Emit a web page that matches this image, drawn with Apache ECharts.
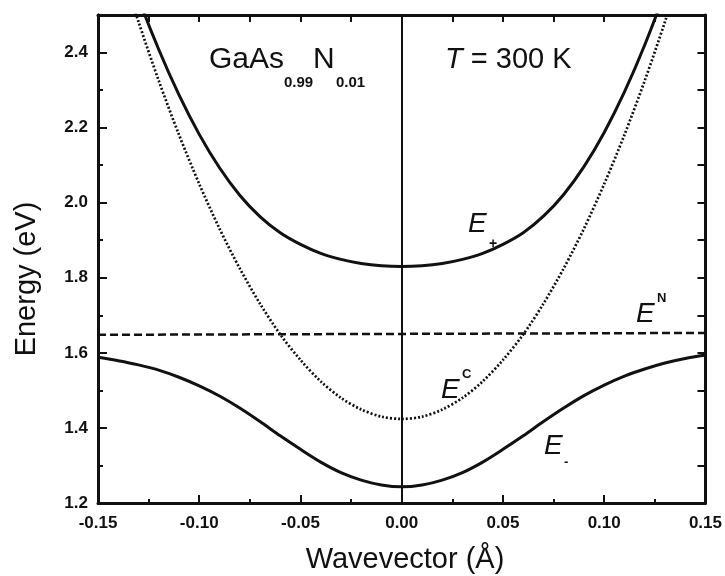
<!DOCTYPE html>
<html>
<head>
<meta charset="utf-8">
<script src="https://cdn.jsdelivr.net/npm/echarts@6/dist/echarts.min.js"></script>
<style>
  html, body { margin: 0; padding: 0; background: #fff; }
  #chart { width: 725px; height: 576px; }
</style>
</head>
<body>
<div id="chart"></div>
<script>
// Wavevector samples (1/Å)
const wavevector = [-0.15, -0.14, -0.13, -0.12, -0.11, -0.10, -0.09, -0.08, -0.07, -0.06, -0.05, -0.04, -0.03, -0.02, -0.01,
  0.00, 0.01, 0.02, 0.03, 0.04, 0.05, 0.06, 0.07, 0.08, 0.09, 0.10, 0.11, 0.12, 0.13, 0.14, 0.15];

// Unperturbed conduction band E^C (eV)
const energyC = [2.833, 2.651, 2.482, 2.325, 2.181, 2.050, 1.931, 1.825, 1.731, 1.649, 1.581, 1.524, 1.480, 1.449, 1.430,
  1.424, 1.430, 1.449, 1.480, 1.524, 1.581, 1.649, 1.731, 1.825, 1.931, 2.050, 2.181, 2.325, 2.482, 2.651, 2.833];

// Upper subband E+ (eV)
const energyPlus = [2.880, 2.705, 2.545, 2.408, 2.287, 2.182, 2.093, 2.020, 1.963, 1.920, 1.889, 1.865, 1.849, 1.838, 1.832,
  1.830, 1.832, 1.838, 1.849, 1.865, 1.889, 1.920, 1.964, 2.022, 2.096, 2.187, 2.295, 2.420, 2.562, 2.720, 2.892];

// Lower subband E- (eV)
const energyMinus = [1.588, 1.579, 1.568, 1.554, 1.535, 1.512, 1.485, 1.453, 1.417, 1.379, 1.343, 1.309, 1.281, 1.261, 1.248,
  1.243, 1.248, 1.261, 1.281, 1.309, 1.343, 1.379, 1.417, 1.453, 1.486, 1.514, 1.538, 1.557, 1.573, 1.585, 1.594];

// Localized nitrogen level E^N (eV)
const nitrogenK = [-0.15, 0.15];
const nitrogenE = [1.648, 1.653];

// Axis settings
const xTicks = { min: -0.15, max: 0.15, step: 0.05 };
const yTicks = { min: 1.2, max: 2.5, step: 0.2 };

const pairs = (xs, ys) => xs.map((x, i) => [x, ys[i]]);

const FONT = '"Liberation Sans", Arial, Helvetica, sans-serif';
const INK = '#111';

const chart = echarts.init(document.getElementById('chart'), null, { renderer: 'canvas' });

const frameLine = { show: true, onZero: false, lineStyle: { color: INK, width: 3 } };

const option = {
  animation: false,
  backgroundColor: '#fff',
  grid: { left: 98, right: 19, top: 15, bottom: 73 },
  xAxis: [
    {
      type: 'value', position: 'bottom',
      min: xTicks.min, max: xTicks.max, interval: xTicks.step,
      axisLine: frameLine,
      axisTick: { show: true, inside: true, length: 8, lineStyle: { color: INK, width: 2 } },
      minorTick: { show: true, splitNumber: 2, length: 4, lineStyle: { color: INK, width: 2 } },
      splitLine: { show: false },
      axisLabel: {
        margin: 12, color: INK, fontFamily: FONT, fontWeight: 'bold', fontSize: 17,
        formatter: v => v.toFixed(2)
      }
    },
    {
      type: 'value', position: 'top',
      min: xTicks.min, max: xTicks.max, interval: 0.025,
      axisLine: frameLine,
      axisTick: { show: true, inside: true, length: 7, lineStyle: { color: INK, width: 2 } },
      splitLine: { show: false },
      axisLabel: { show: false }
    }
  ],
  yAxis: [
    {
      type: 'value', position: 'left',
      min: yTicks.min, max: yTicks.max, interval: yTicks.step,
      axisLine: frameLine,
      axisTick: { show: true, inside: true, length: 9, lineStyle: { color: INK, width: 2 } },
      splitLine: { show: false },
      axisLabel: {
        margin: 10, color: INK, fontFamily: FONT, fontWeight: 'bold', fontSize: 17,
        showMaxLabel: false,
        formatter: v => v.toFixed(1)
      }
    },
    {
      type: 'value', position: 'left',
      min: yTicks.min, max: yTicks.max, interval: 0.1,
      axisLine: frameLine,
      axisTick: { show: true, inside: true, length: 5, lineStyle: { color: INK, width: 2 } },
      splitLine: { show: false },
      axisLabel: { show: false }
    },
    {
      type: 'value', position: 'right',
      min: yTicks.min, max: yTicks.max, interval: 0.1,
      axisLine: frameLine,
      axisTick: { show: true, inside: true, length: 8, lineStyle: { color: INK, width: 2 } },
      splitLine: { show: false },
      axisLabel: { show: false }
    }
  ],
  series: [
    {
      name: 'E^N', type: 'line', data: pairs(nitrogenK, nitrogenE),
      showSymbol: false, clip: true,
      lineStyle: { color: INK, width: 2.5, type: [8, 4] },
      markLine: {
        silent: true, symbol: 'none', label: { show: false },
        lineStyle: { color: INK, width: 2, type: 'solid' },
        data: [{ xAxis: 0 }]
      }
    },
    {
      name: 'E^C', type: 'line', data: pairs(wavevector, energyC),
      showSymbol: false, smooth: 0.3, clip: true,
      lineStyle: { color: INK, width: 2.7, type: [2, 2] }
    },
    {
      name: 'E+', type: 'line', data: pairs(wavevector, energyPlus),
      showSymbol: false, smooth: 0.3, clip: true,
      lineStyle: { color: INK, width: 3 }
    },
    {
      name: 'E-', type: 'line', data: pairs(wavevector, energyMinus),
      showSymbol: false, smooth: 0.3, clip: true,
      lineStyle: { color: INK, width: 3 }
    }
  ],
  graphic: [
    // axis titles
    { type: 'text', x: 405, y: 560,
      style: { text: 'Wavevector (Å)', font: '29px ' + FONT, fill: INK, align: 'center', verticalAlign: 'middle' } },
    { type: 'text', x: 27, y: 279, rotation: Math.PI / 2,
      style: { text: 'Energy (eV)', font: '29px ' + FONT, fill: INK, align: 'center', verticalAlign: 'middle' } },
    // material and temperature
    { type: 'text', x: 209, y: 60,
      style: { text: 'GaAs', font: '30px ' + FONT, fill: INK, align: 'left', verticalAlign: 'middle' } },
    { type: 'text', x: 284, y: 83,
      style: { text: '0.99', font: 'bold 15px ' + FONT, fill: INK, align: 'left', verticalAlign: 'middle' } },
    { type: 'text', x: 313, y: 60,
      style: { text: 'N', font: '30px ' + FONT, fill: INK, align: 'left', verticalAlign: 'middle' } },
    { type: 'text', x: 336, y: 83,
      style: { text: '0.01', font: 'bold 15px ' + FONT, fill: INK, align: 'left', verticalAlign: 'middle' } },
    { type: 'text', x: 445, y: 60,
      style: {
        text: '{i|T} = 300 K', font: '29px ' + FONT, fill: INK, align: 'left', verticalAlign: 'middle',
        rich: { i: { fontStyle: 'italic', fontSize: 29, fontFamily: FONT } }
      } },
    // band labels
    { type: 'text', x: 468, y: 224,
      style: { text: 'E', font: 'italic 28px ' + FONT, fill: INK, align: 'left', verticalAlign: 'middle' } },
    { type: 'text', x: 489, y: 244,
      style: { text: '+', font: 'bold 14px ' + FONT, fill: INK, align: 'left', verticalAlign: 'middle' } },
    { type: 'text', x: 636, y: 314,
      style: { text: 'E', font: 'italic 28px ' + FONT, fill: INK, align: 'left', verticalAlign: 'middle' } },
    { type: 'text', x: 657, y: 298,
      style: { text: 'N', font: 'bold 13px ' + FONT, fill: INK, align: 'left', verticalAlign: 'middle' } },
    { type: 'text', x: 441, y: 390,
      style: { text: 'E', font: 'italic 28px ' + FONT, fill: INK, align: 'left', verticalAlign: 'middle' } },
    { type: 'text', x: 462, y: 374,
      style: { text: 'C', font: 'bold 13px ' + FONT, fill: INK, align: 'left', verticalAlign: 'middle' } },
    { type: 'text', x: 544, y: 446,
      style: { text: 'E', font: 'italic 28px ' + FONT, fill: INK, align: 'left', verticalAlign: 'middle' } },
    { type: 'text', x: 564, y: 462,
      style: { text: '-', font: 'bold 13px ' + FONT, fill: INK, align: 'left', verticalAlign: 'middle' } }
  ]
};

chart.setOption(option);
</script>
</body>
</html>
